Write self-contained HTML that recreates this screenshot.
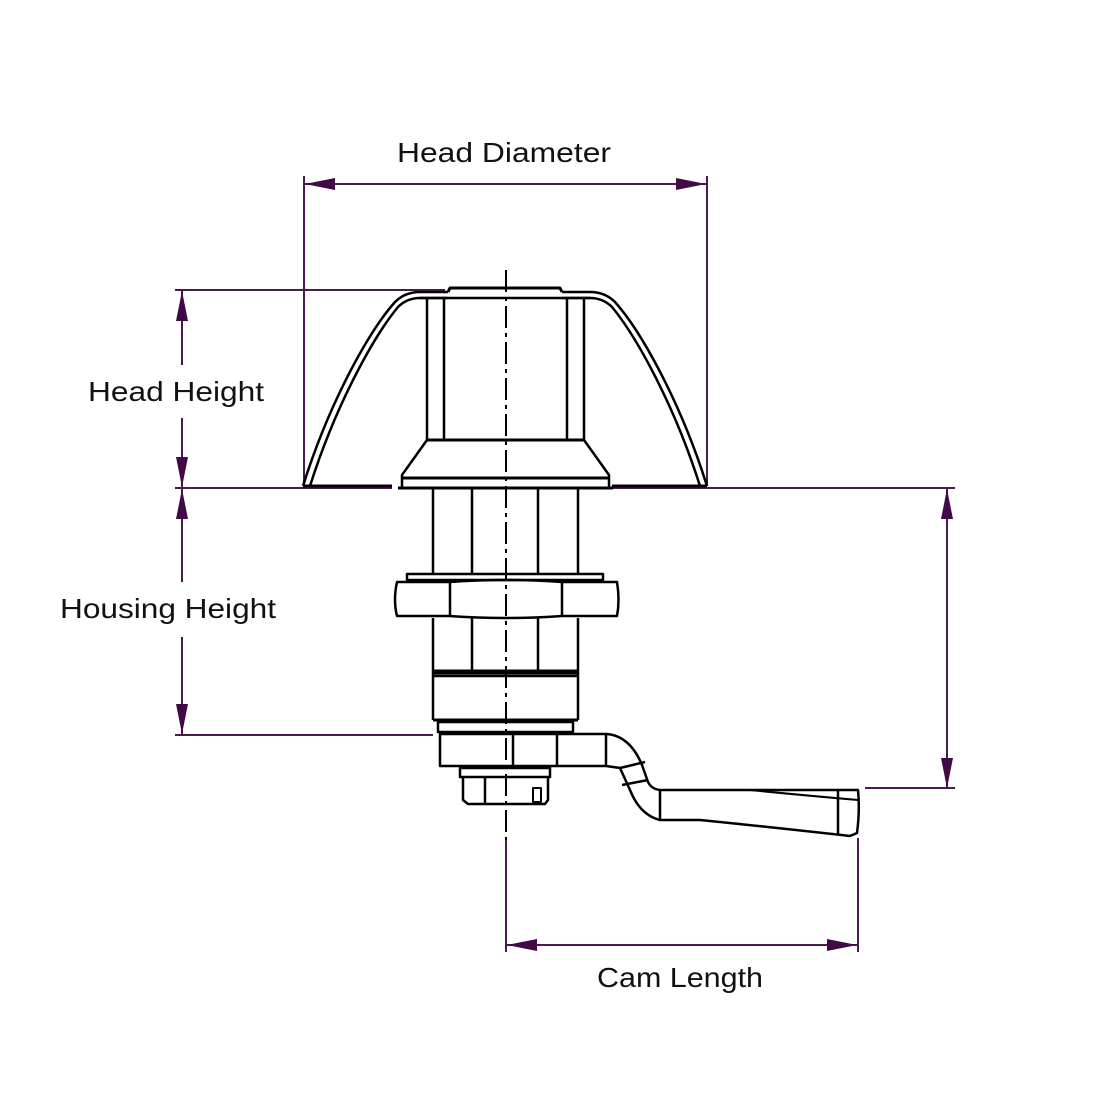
<!DOCTYPE html>
<html><head><style>html,body{margin:0;padding:0;background:#fff}svg{display:block}</style></head>
<body>
<svg width="1100" height="1100" viewBox="0 0 1100 1100" xmlns="http://www.w3.org/2000/svg">
<defs>
<marker id="a" viewBox="0 0 30 12" refX="30" refY="6" markerWidth="30" markerHeight="12" markerUnits="userSpaceOnUse" orient="auto-start-reverse">
<path d="M0,0 L30,6 L0,12 Z" fill="#3f0a45"/>
</marker>
</defs>
<g stroke="#4a1a4e" stroke-width="2" fill="none">
<!-- head diameter -->
<line x1="304" y1="176" x2="304" y2="486"/>
<line x1="707" y1="176" x2="707" y2="486"/>
<line x1="305" y1="184" x2="706" y2="184" marker-start="url(#a)" marker-end="url(#a)"/>
<!-- head height -->
<line x1="175" y1="290" x2="445" y2="290"/>
<line x1="175" y1="488" x2="392" y2="488"/>
<line x1="612" y1="488" x2="955" y2="488"/>
<line x1="182" y1="291" x2="182" y2="365" marker-start="url(#a)"/>
<line x1="182" y1="418" x2="182" y2="487" marker-end="url(#a)"/>
<!-- housing height -->
<line x1="182" y1="489" x2="182" y2="582" marker-start="url(#a)"/>
<line x1="182" y1="637" x2="182" y2="734" marker-end="url(#a)"/>
<line x1="175" y1="735" x2="433" y2="735"/>
<!-- right -->
<line x1="947" y1="489" x2="947" y2="788" marker-start="url(#a)" marker-end="url(#a)"/>
<line x1="865" y1="788" x2="955" y2="788"/>
<!-- cam length -->
<line x1="506" y1="838" x2="506" y2="952"/>
<line x1="858" y1="838" x2="858" y2="952"/>
<line x1="507" y1="945" x2="857" y2="945" marker-start="url(#a)" marker-end="url(#a)"/>
</g>
<g font-family="Liberation Sans, sans-serif" font-size="28" fill="#111">
<text x="397" y="162" textLength="214" lengthAdjust="spacingAndGlyphs">Head Diameter</text>
<text x="88" y="401" textLength="176" lengthAdjust="spacingAndGlyphs">Head Height</text>
<text x="60" y="618" textLength="216" lengthAdjust="spacingAndGlyphs">Housing Height</text>
<text x="597" y="987" textLength="166" lengthAdjust="spacingAndGlyphs">Cam Length</text>
</g>
<g stroke="#000" stroke-width="2.5" fill="none" stroke-linejoin="round">
<!-- dome -->
<path d="M303,486 C330,400 370,330 395,302 Q405,292 420,292 L448,292"/>
<path d="M310,486 C336,404 374,336 398,307 Q407,298 420,298 L448,298"/>
<path d="M707,486 C680,400 640,330 615,302 Q605,292 590,292 L562,292"/>
<path d="M700,486 C674,404 636,336 612,307 Q603,298 590,298 L562,298"/>
<path d="M448,292 L450,288 L560,288 L562,292" stroke-width="3"/>
<line x1="420" y1="298" x2="590" y2="298"/>
<line x1="427" y1="298" x2="427" y2="440"/>
<line x1="444" y1="298" x2="444" y2="440"/>
<line x1="567" y1="298" x2="567" y2="440"/>
<line x1="584" y1="298" x2="584" y2="440"/>
<line x1="427" y1="440" x2="584" y2="440" stroke-width="3"/>
<path d="M427,440 L402,475 L402,488 M584,440 L609,475 L609,488"/>
<line x1="402" y1="478" x2="609" y2="478" stroke-width="3"/>
<line x1="303" y1="486" x2="392" y2="486" stroke-width="3"/>
<line x1="612" y1="486" x2="707" y2="486" stroke-width="3"/>
<line x1="398" y1="488" x2="613" y2="488" stroke-width="3"/>
<!-- housing -->
<line x1="433" y1="489" x2="433" y2="573"/>
<line x1="472" y1="489" x2="472" y2="573"/>
<line x1="538" y1="489" x2="538" y2="573"/>
<line x1="578" y1="489" x2="578" y2="573"/>
<rect x="407" y="574" width="196" height="6"/>
<path d="M397,582 L449,582 Q506,578 562,582 L617,582 Q620,600 617,616 L562,616 Q506,620 449,616 L397,616 Q393,600 397,582 Z"/>
<line x1="450" y1="582" x2="450" y2="616"/>
<line x1="562" y1="582" x2="562" y2="616"/>
<line x1="433" y1="618" x2="433" y2="720"/>
<line x1="578" y1="618" x2="578" y2="720"/>
<line x1="472" y1="618" x2="472" y2="672"/>
<line x1="538" y1="618" x2="538" y2="672"/>
<line x1="433" y1="672" x2="578" y2="672" stroke-width="5"/>
<line x1="433" y1="676" x2="578" y2="676"/>
<line x1="433" y1="720" x2="578" y2="720" stroke-width="3"/>
<rect x="438" y="722" width="135" height="10"/>
<!-- cam block -->
<rect x="440" y="734" width="117" height="32"/>
<line x1="513" y1="734" x2="513" y2="766"/>
<path d="M557,734 L607,734 Q630,736 642,765 L648,782 Q652,790 662,790 L858,790 Q860,810 857,833 L850,836 Q760,826 700,820 L660,820 Q640,815 630,790 L620,768 L606,766 L557,766"/>
<line x1="606" y1="734" x2="606" y2="766"/>
<path d="M620,768 L645,762 M622,785 L648,780"/>
<line x1="660" y1="790" x2="660" y2="820"/>
<line x1="838" y1="790" x2="838" y2="834"/>
<path d="M750,790 Q800,795 858,800" stroke-width="2"/>
<!-- serrated + nut -->
<rect x="460" y="768" width="90" height="9"/>
<path d="M463,777 L463,800 L468,804 L545,804 L548,800 L548,777"/>
<line x1="485" y1="777" x2="485" y2="804"/>
<rect x="533" y="788" width="8" height="14" stroke-width="2"/>
</g>
<line x1="506" y1="270" x2="506" y2="840" stroke="#000" stroke-width="2" stroke-dasharray="22,5,4,5"/>
</svg>
</body></html>
